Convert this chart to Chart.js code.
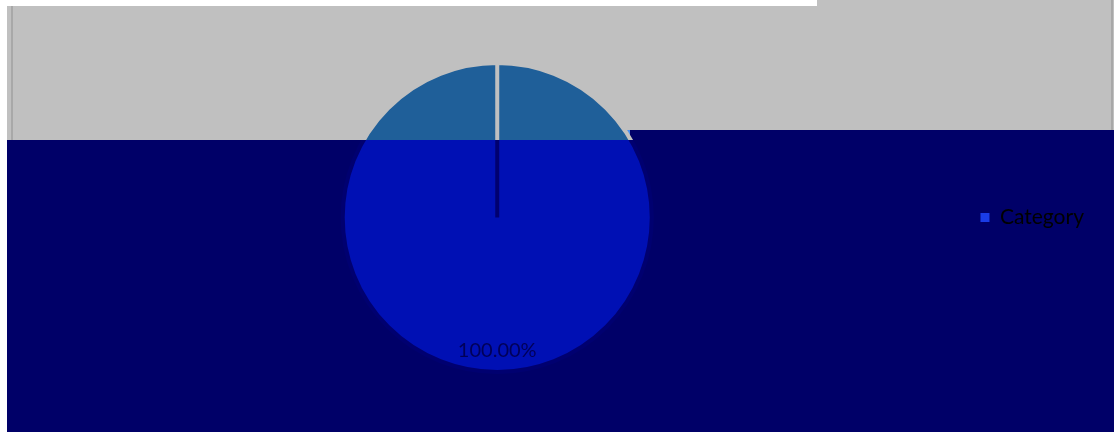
<!DOCTYPE html>
<html>
<head>
<meta charset="utf-8">
<script src="https://cdn.jsdelivr.net/npm/chart.js@4/dist/chart.umd.min.js"></script>
<style>
  html, body { margin: 0; padding: 0; background: #ffffff; }
  #wrap { position: relative; width: 1114px; height: 432px; }
</style>
</head>
<body>
<div id="wrap"><canvas id="c" width="1114" height="432"></canvas></div>
<script>
const categories = ["Category"];
const seriesValues = [100];
const labelTexts = ["100.00%"];

const NAVY = '#000068';
const GRAY = '#c0c0c0';
const SPLIT = 140; // y where the gray band ends (layout)

const backgroundPlugin = {
  id: 'bands',
  beforeDraw(chart) {
    const ctx = chart.ctx;
    const W = chart.width, H = chart.height;
    ctx.save();
    ctx.fillStyle = '#ffffff';
    ctx.fillRect(0, 0, W, H);
    ctx.fillStyle = GRAY;
    ctx.fillRect(7, 6, W - 7, SPLIT - 6);
    ctx.fillRect(817, 0, W - 817, 6);
    ctx.fillStyle = '#a8a8a8';
    ctx.fillRect(11, 6, 2, SPLIT - 6);
    ctx.fillRect(W - 3, 0, 2, 130);
    ctx.fillStyle = NAVY;
    ctx.fillRect(7, SPLIT, W - 7, H - SPLIT);
    ctx.fillRect(622, 130, W - 622, 10);
    ctx.fillStyle = '#4a90f0';
    ctx.fillRect(618, 130, 12, 6);
    ctx.restore();
  }
};

const labelPlugin = {
  id: 'sliceLabels',
  afterDatasetsDraw(chart) {
    const ctx = chart.ctx;
    const meta = chart.getDatasetMeta(0);
    ctx.save();
    ctx.font = '20px Lato, "Open Sans", sans-serif';
    ctx.fillStyle = '#000058';
    ctx.textAlign = 'center';
    ctx.textBaseline = 'middle';
    meta.data.forEach((arc, i) => {
      const p = arc.getProps(['x', 'y', 'startAngle', 'endAngle', 'outerRadius'], true);
      const mid = (p.startAngle + p.endAngle) / 2;
      const r = p.outerRadius * 0.86;
      ctx.fillText(labelTexts[i], p.x + Math.cos(mid) * r, p.y + Math.sin(mid) * r);
    });
    ctx.restore();
  }
};

function splitGradient(ctx, top, bottom) {
  const g = ctx.chart.ctx.createLinearGradient(0, 0, 0, ctx.chart.height);
  const s = SPLIT / ctx.chart.height;
  g.addColorStop(0, top);
  g.addColorStop(s, top);
  g.addColorStop(s, bottom);
  g.addColorStop(1, bottom);
  return g;
}

new Chart(document.getElementById('c'), {
  type: 'pie',
  data: {
    labels: categories,
    datasets: [{
      data: seriesValues,
      backgroundColor: (c) => splitGradient(c, '#1f5f99', '#0010b4'),
      borderColor: (c) => splitGradient(c, GRAY, '#000070'),
      borderWidth: 4
    }]
  },
  options: {
    responsive: false,
    animation: false,
    devicePixelRatio: 1,
    layout: { padding: { left: 24, right: 20, top: 61, bottom: 58 } },
    plugins: {
      tooltip: { enabled: false },
      legend: {
        position: 'right',
        labels: {
          boxWidth: 9,
          boxHeight: 9,
          color: '#00005a',
          font: { size: 21, family: 'Lato, "Open Sans", sans-serif' },
          generateLabels(chart) {
            return chart.data.labels.map((l, i) => ({
              text: l, fillStyle: '#1a3ce6', strokeStyle: '#1a3ce6', lineWidth: 0, index: i
            }));
          }
        }
      }
    }
  },
  plugins: [backgroundPlugin, labelPlugin]
});
</script>
</body>
</html>
